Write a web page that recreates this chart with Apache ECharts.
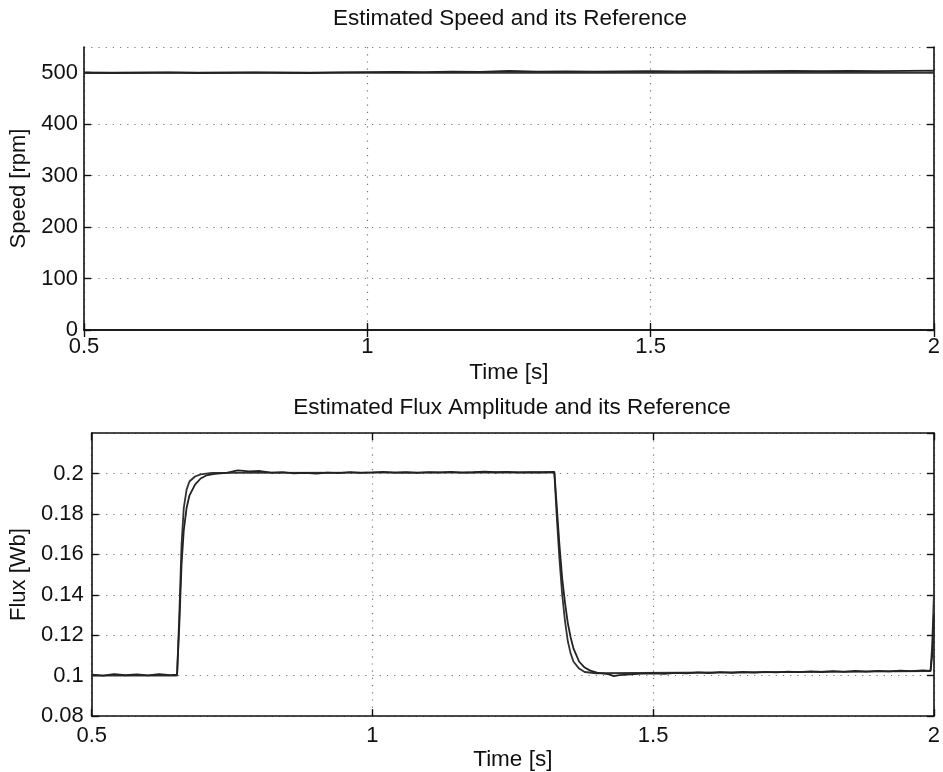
<!DOCTYPE html>
<html>
<head>
<meta charset="utf-8">
<script src="https://cdn.jsdelivr.net/npm/echarts@6/dist/echarts.min.js"></script>
<style>
html,body{margin:0;padding:0;background:#fff;}
#c{width:943px;height:772px;}
</style>
</head>
<body>
<div id="c"></div>
<script>
// ---- data ----
const speedTitle = 'Estimated Speed and its Reference';
const fluxTitle = 'Estimated Flux Amplitude and its Reference';
const speedTime = [0.50,0.55,0.60,0.65,0.70,0.75,0.80,0.85,0.90,0.95,1.00,1.05,1.10,1.15,1.20,1.25,1.30,1.35,1.40,1.45,1.50,1.55,1.60,1.65,1.70,1.75,1.80,1.85,1.90,1.95,2.00];
const speedEst  = [500,499.5,500,500.5,499.5,500,500.5,500,499.5,500.5,501,501.5,501,502,501.5,503.5,502,502.5,502,502.5,503,502.5,503,502.5,503,503.5,503,503.5,503,503.5,504];
const speedRef  = [500,500,500,500,500,500,500,500,500,500,500,500,500,500,500,500,500,500,500,500,500,500,500,500,500,500,500,500,500,500,500];

const fluxRefTime = [0.50,0.652,0.656,0.660,0.664,0.669,0.674,0.684,0.694,0.714,1.324,1.328,1.333,1.338,1.343,1.348,1.353,1.358,1.368,1.378,1.398,1.994,1.997,2.000];
const fluxRefVal  = [0.100,0.100,0.130,0.165,0.183,0.192,0.196,0.1985,0.1995,0.2003,0.2005,0.180,0.158,0.140,0.127,0.117,0.111,0.107,0.1035,0.1018,0.1012,0.1022,0.115,0.140];

const fluxEstTime = [0.50,0.52,0.54,0.56,0.58,0.60,0.62,0.64,0.652,0.656,0.660,0.664,0.669,0.674,0.684,0.694,0.704,0.719,0.74,0.76,0.78,0.80,0.82,0.84,0.86,0.88,0.90,0.92,0.94,0.96,0.98,1.00,1.02,1.04,1.06,1.08,1.10,1.12,1.14,1.16,1.18,1.20,1.22,1.24,1.26,1.28,1.30,1.324,1.328,1.333,1.338,1.343,1.348,1.353,1.358,1.368,1.378,1.388,1.40,1.42,1.43,1.44,1.46,1.48,1.50,1.52,1.54,1.56,1.58,1.60,1.62,1.64,1.66,1.68,1.70,1.72,1.74,1.76,1.78,1.80,1.82,1.84,1.86,1.88,1.90,1.92,1.94,1.96,1.98,1.994,1.997,2.000];
const fluxEstVal  = [0.1005,0.1000,0.1008,0.1002,0.1006,0.1001,0.1007,0.1003,0.1005,0.125,0.155,0.172,0.183,0.189,0.1945,0.1975,0.1990,0.1998,0.2003,0.2015,0.2010,0.2012,0.2004,0.2006,0.2000,0.2003,0.1999,0.2004,0.2002,0.2007,0.2003,0.2005,0.2008,0.2004,0.2006,0.2003,0.2007,0.2005,0.2008,0.2004,0.2006,0.2009,0.2006,0.2008,0.2005,0.2007,0.2006,0.2008,0.185,0.165,0.148,0.136,0.126,0.119,0.1135,0.107,0.1040,0.1025,0.1015,0.1008,0.0998,0.1003,0.1006,0.1010,0.1012,0.1009,0.1014,0.1011,0.1016,0.1013,0.1017,0.1014,0.1018,0.1015,0.1019,0.1016,0.1020,0.1017,0.1021,0.1018,0.1022,0.1019,0.1023,0.1020,0.1024,0.1021,0.1025,0.1022,0.1026,0.1024,0.110,0.130];

const timeMin = 0.5, timeMax = 2, timeStep = 0.5;
const speedMin = 0, speedMax = 550, speedStep = 100;
const fluxMin = 0.08, fluxMax = 0.22, fluxStep = 0.02;

// ---- chart ----
const FONT = '"Liberation Sans", Arial, Helvetica, sans-serif';
const INK = '#111';
const gridLine = {show:true, lineStyle:{color:'#777', width:1.2, type:[1.2,6]}};

function pairs(xs, ys){ return xs.map((x,i)=>[x, ys[i]]); }

function xAxes(gi, labelMargin, nameGap){
  return [
    {gridIndex:gi, type:'value', min:timeMin, max:timeMax, interval:timeStep, position:'bottom',
     name:'Time [s]', nameLocation:'middle', nameGap:nameGap,
     nameTextStyle:{fontFamily:FONT, fontSize:22.5, color:INK},
     axisLine:{lineStyle:{color:INK, width:1.6}},
     axisTick:{inside:true, length:7, lineStyle:{color:INK, width:1.4}},
     axisLabel:{fontFamily:FONT, fontSize:22, color:INK, margin:labelMargin},
     splitLine:gridLine},
    {gridIndex:gi, type:'value', min:timeMin, max:timeMax, interval:timeStep, position:'top',
     axisLine:{lineStyle:{color:INK, width:1.6}},
     axisTick:{inside:true, length:7, lineStyle:{color:INK, width:1.4}},
     axisLabel:{show:false}, splitLine:{show:false}}
  ];
}
function yAxes(gi, min, max, step, name, nameGap, labelMargin){
  return [
    {gridIndex:gi, type:'value', min:min, max:max, interval:step, position:'left',
     name:name, nameLocation:'middle', nameGap:nameGap,
     nameTextStyle:{fontFamily:FONT, fontSize:22, color:INK},
     axisLine:{show:true, lineStyle:{color:INK, width:1.6}},
     axisTick:{show:true, inside:true, length:7, lineStyle:{color:INK, width:1.4}},
     axisLabel:{fontFamily:FONT, fontSize:22, color:INK, margin:labelMargin, showMaxLabel:false},
     splitLine:gridLine},
    {gridIndex:gi, type:'value', min:min, max:max, interval:step, position:'right',
     axisLine:{show:true, lineStyle:{color:INK, width:1.6}},
     axisTick:{show:true, inside:true, length:7, lineStyle:{color:INK, width:1.4}},
     axisLabel:{show:false}, splitLine:{show:false}}
  ];
}
function line(xi, yi, data, color, w){
  return {type:'line', xAxisIndex:xi, yAxisIndex:yi, data:data, showSymbol:false, symbol:'none',
          smooth:false, animation:false, lineStyle:{color:color, width:w}};
}

const chart = echarts.init(document.getElementById('c'), null, {renderer:'canvas'});
chart.setOption({
  animation:false,
  backgroundColor:'#fff',
  grid:[
    {left:84, right:7, top:47, height:283},
    {left:88, right:7, top:433, height:285}
  ],
  xAxis:[...xAxes(0, 6, 31), ...xAxes(1, 9, 29)],
  yAxis:[...yAxes(0, speedMin, speedMax, speedStep, 'Speed [rpm]', 50, 6),
         ...yAxes(1, fluxMin, fluxMax, fluxStep, 'Flux [Wb]', 54, 8)],
  graphic:[
    {type:'text', x:510, y:19, style:{text:speedTitle, font:'22.5px '+FONT, fill:INK, textAlign:'center', textVerticalAlign:'middle'}},
    {type:'text', x:512, y:408, style:{text:fluxTitle, font:'22.5px '+FONT, fill:INK, textAlign:'center', textVerticalAlign:'middle'}}
  ],
  series:[
    line(0, 0, pairs(speedTime, speedRef), '#333', 1.8),
    line(0, 0, pairs(speedTime, speedEst), '#222', 1.8),
    line(2, 2, pairs(fluxRefTime, fluxRefVal), '#333', 1.8),
    line(2, 2, pairs(fluxEstTime, fluxEstVal), '#222', 1.8)
  ]
});
</script>
</body>
</html>
